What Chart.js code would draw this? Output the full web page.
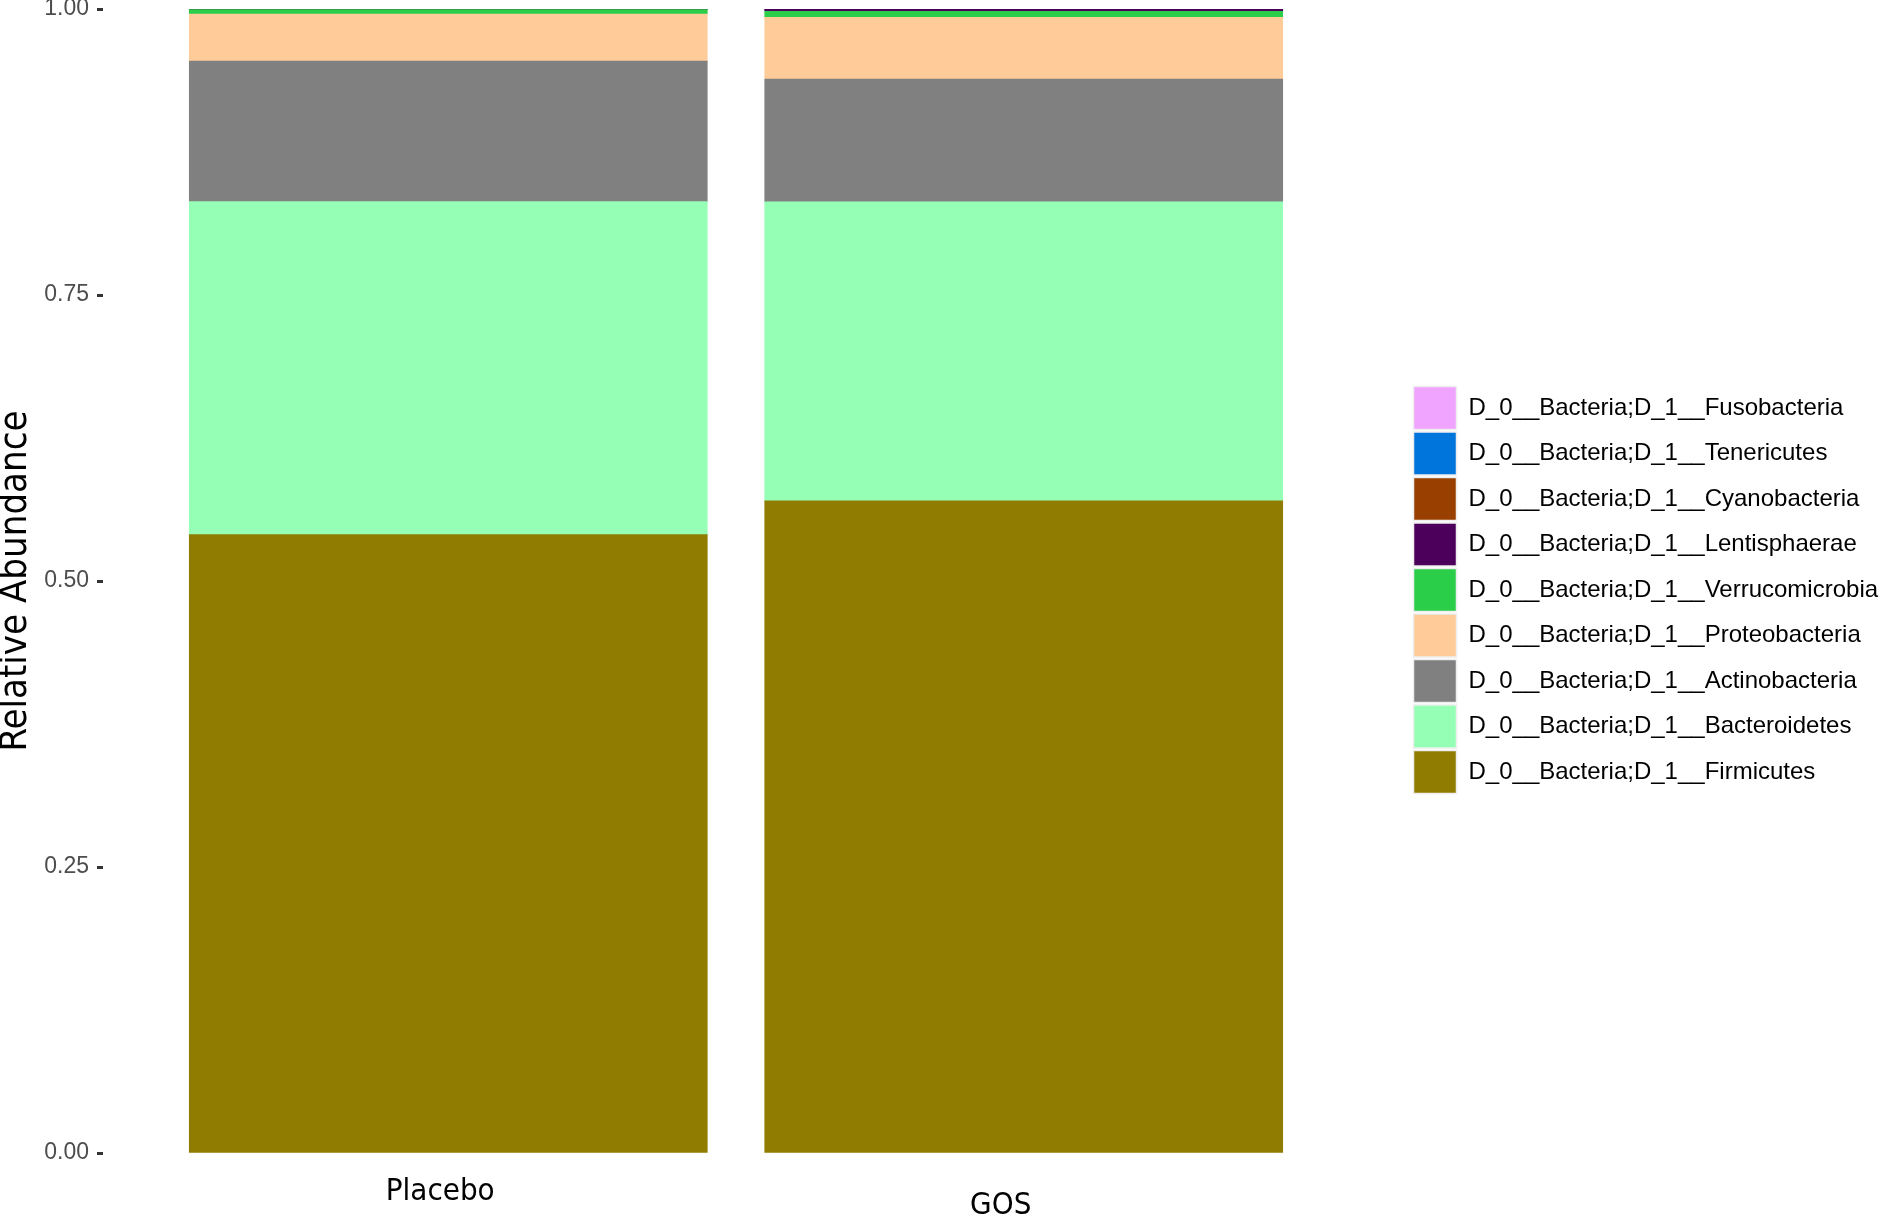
<!doctype html>
<html>

<head>
    <title>Relative Abundance</title>
    <script src="https://cdn.jsdelivr.net/npm/chart.js"></script>
    <style>
        body { margin: 0; background: #fff; }
    </style>
</head>

<body>

    <canvas id="abundancia" width="1884" height="1214"></canvas>

    <script>
        // grupos (eixo x)
        var grupos = ['Placebo', 'GOS'];

        // filos, de baixo para cima na pilha
        var filos = [
            'D_0__Bacteria;D_1__Firmicutes',
            'D_0__Bacteria;D_1__Bacteroidetes',
            'D_0__Bacteria;D_1__Actinobacteria',
            'D_0__Bacteria;D_1__Proteobacteria',
            'D_0__Bacteria;D_1__Verrucomicrobia',
            'D_0__Bacteria;D_1__Lentisphaerae',
            'D_0__Bacteria;D_1__Cyanobacteria',
            'D_0__Bacteria;D_1__Tenericutes',
            'D_0__Bacteria;D_1__Fusobacteria'
        ];

        var cores = ['#8F7C00', '#94FFB5', '#808080', '#FFCC99', '#2BCE48', '#4C005C', '#993F00', '#0075DC', '#F0A3FF'];

        // abundancia relativa por filo: [Placebo, GOS]
        var firmicutes      = [0.5405, 0.5700];
        var bacteroidetes   = [0.2911, 0.2614];
        var actinobacteria  = [0.1229, 0.1074];
        var proteobacteria  = [0.0411, 0.0539];
        var verrucomicrobia = [0.0040, 0.0053];
        var lentisphaerae   = [0.0001, 0.0017];
        var cyanobacteria   = [0.0001, 0.0002];
        var tenericutes     = [0.0001, 0.0002];
        var fusobacteria    = [0.0001, 0.0001];

        var valores = [firmicutes, bacteroidetes, actinobacteria, proteobacteria, verrucomicrobia,
                       lentisphaerae, cyanobacteria, tenericutes, fusobacteria];

        var ticksY = [0, 0.25, 0.5, 0.75, 1];

        // deslocamento dos rotulos do eixo x (em unidades do eixo), como no original
        var desvioRotulo = [-0.014, -0.040];

        var datasets = filos.map(function (nome, i) {
            return {
                label: nome,
                backgroundColor: cores[i],
                borderWidth: 0,
                barThickness: 518,
                data: valores[i].map(function (v, j) { return { x: j + 1, y: v }; })
            };
        });

        var fonteNormal = "'Liberation Sans', Arial, sans-serif";
        var fonteEstreita = "'Liberation Sans Narrow', 'Arial Narrow', 'DejaVu Sans Condensed', sans-serif";

        var grafico = new Chart(document.getElementById('abundancia').getContext('2d'), {
            type: 'bar',
            data: { datasets: datasets },
            options: {
                responsive: false,
                animation: false,
                layout: { padding: { top: 9, bottom: 0, left: 0, right: 0 } },
                plugins: {
                    tooltip: { enabled: false },
                    legend: {
                        position: 'right',
                        fullSize: false,
                        reverse: true,
                        maxWidth: 473,
                        title: { display: true, text: ' ', padding: 0, font: { size: 12, lineHeight: 1.5 } },
                        labels: {
                            boxWidth: 43,
                            boxHeight: 43,
                            padding: 2.5,
                            color: '#000',
                            font: { family: fonteNormal, size: 24 },
                            generateLabels: function (chart) {
                                return Chart.defaults.plugins.legend.labels.generateLabels(chart).map(function (l) {
                                    l.lineWidth = 1.5;
                                    l.strokeStyle = '#eeeeee';
                                    return l;
                                });
                            }
                        }
                    }
                },
                scales: {
                    x: {
                        type: 'linear',
                        stacked: true,
                        offset: false,
                        min: 0.4,
                        max: 2.6,
                        border: { display: false },
                        grid: { display: false, drawTicks: false },
                        afterBuildTicks: function (s) {
                            s.ticks = grupos.map(function (g, i) { return { value: i + 1 + desvioRotulo[i] }; });
                        },
                        afterFit: function (s) { s.height = 61; },
                        ticks: {
                            padding: 13,
                            maxRotation: 0,
                            color: '#000',
                            font: function (ctx) {
                                return { family: fonteEstreita, size: 31, lineHeight: ctx.index === 1 ? 2.55 : 1.68 };
                            },
                            callback: function (v, i) { return grupos[i]; }
                        }
                    },
                    y: {
                        stacked: true,
                        min: 0,
                        max: 1,
                        border: { display: false },
                        grid: { drawOnChartArea: false, drawTicks: true, tickLength: 6, tickWidth: 3, tickColor: '#333333' },
                        afterBuildTicks: function (s) {
                            s.ticks = ticksY.map(function (v) { return { value: v }; });
                        },
                        afterFit: function (s) {
                            s.width = 103;
                            s.paddingTop = 0;
                            s.paddingBottom = 0;
                        },
                        ticks: {
                            padding: 8,
                            color: '#4D4D4D',
                            font: { family: fonteNormal, size: 23 },
                            callback: function (v) { return v.toFixed(2); }
                        },
                        title: {
                            display: true,
                            text: 'Relative Abundance',
                            color: '#000',
                            padding: 0,
                            font: { family: fonteEstreita, size: 38, lineHeight: 0.85 }
                        }
                    },
                    // espaco vazio entre o painel e a legenda
                    margem: {
                        type: 'linear',
                        position: 'right',
                        display: true,
                        border: { display: false },
                        grid: { display: false },
                        ticks: { display: false },
                        afterFit: function (s) {
                            s.width = 42;
                            s.paddingTop = 0;
                            s.paddingBottom = 0;
                        }
                    }
                }
            }
        });
    </script>
</body>

</html>
